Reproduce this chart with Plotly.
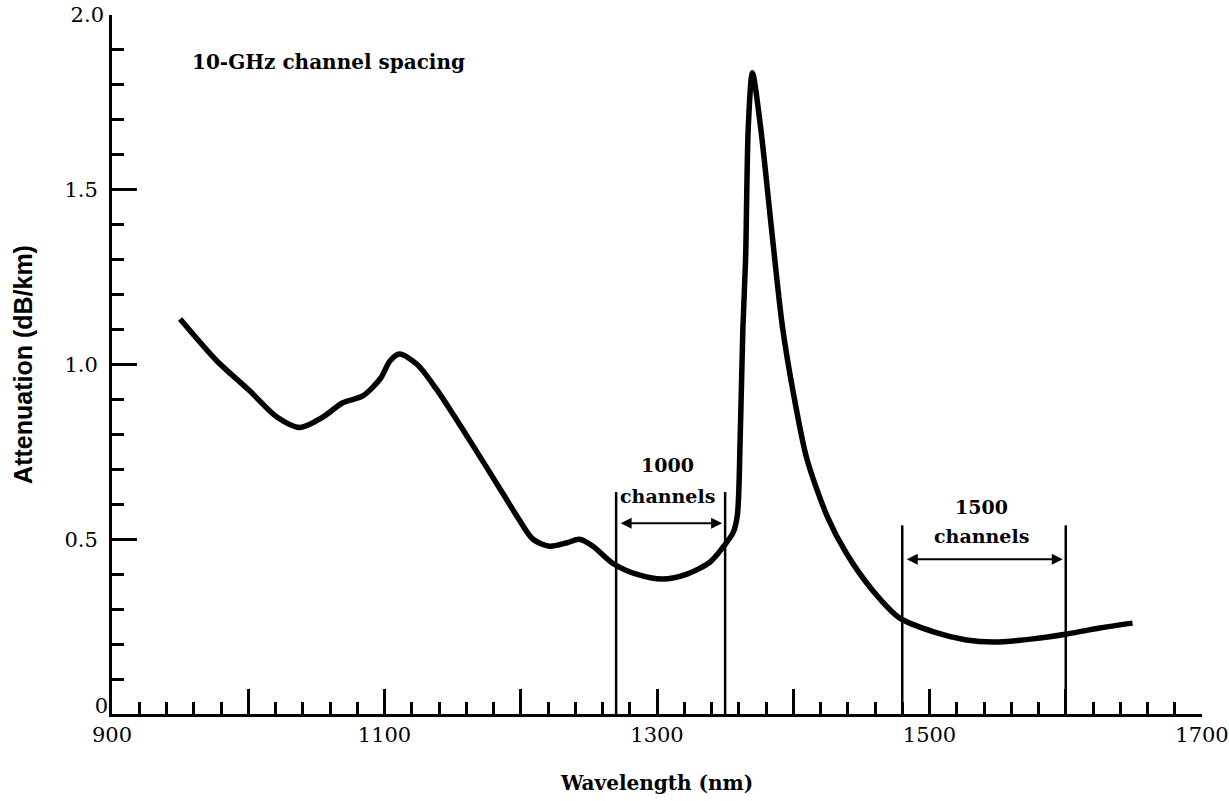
import plotly.graph_objects as go

# ---- data ----
wavelength_nm = [950, 977, 1001, 1021, 1038, 1055, 1069, 1084, 1097, 1104, 1111, 1124,
                 1138, 1163, 1187, 1199, 1209, 1221, 1234, 1243, 1253, 1268, 1285, 1304,
                 1322, 1339, 1348, 1356, 1359, 1361, 1363, 1365, 1367, 1370, 1376, 1384,
                 1392, 1400, 1410, 1425, 1439, 1458, 1478, 1503, 1527, 1547, 1576, 1601,
                 1625, 1649]
attenuation_db_km = [1.13, 1.01, 0.925, 0.85, 0.82, 0.85, 0.89, 0.91, 0.96, 1.01, 1.03, 1.00,
                     0.93, 0.78, 0.63, 0.555, 0.50, 0.48, 0.49, 0.50, 0.48, 0.43, 0.40, 0.386,
                     0.40, 0.435, 0.475, 0.52, 0.57, 0.78, 1.10, 1.30, 1.68, 1.835, 1.68, 1.39,
                     1.11, 0.92, 0.73, 0.565, 0.46, 0.355, 0.275, 0.235, 0.212, 0.206, 0.215,
                     0.229, 0.246, 0.26]

band_names = ["1000", "1500"]
band_low_nm = [1270, 1480]
band_high_nm = [1350, 1600]
band_line_top = [0.635, 0.54]
band_arrow_level = [0.546, 0.443]
band_label_x = [1308, 1538]
band_number_y = [0.712, 0.592]
band_word_y = [0.624, 0.508]

x_tick_values = [900, 1000, 1100, 1200, 1300, 1400, 1500, 1600, 1700]
x_tick_labels = ["900", "", "1100", "", "1300", "", "1500", "", "1700"]
y_tick_values = [0.5, 1.0, 1.5]
y_tick_labels = ["0.5", "1.0", "1.5"]
y_zero_value = [0]
y_zero_label = ["0"]
y_top_value = [2.0]
y_top_label = ["2.0"]

note_text = "10-GHz channel spacing"
note_x = 957
note_y = 1.866

SERIF = "DejaVu Serif"

fig = go.Figure()

# band boundary lines
vx, vy = [], []
for lo, hi, top in zip(band_low_nm, band_high_nm, band_line_top):
    vx += [lo, lo, None, hi, hi, None]
    vy += [0, top, None, 0, top, None]
fig.add_trace(go.Scatter(x=vx, y=vy, mode="lines",
                         line=dict(color="black", width=2.5),
                         hoverinfo="skip", showlegend=False))

# attenuation curve
fig.add_trace(go.Scatter(x=wavelength_nm, y=attenuation_db_km, mode="lines",
                         line=dict(color="black", width=5.5, shape="spline", smoothing=0.8),
                         showlegend=False))

# invisible traces for the label-only y axes
fig.add_trace(go.Scatter(x=[None], y=[None], yaxis="y2", showlegend=False, hoverinfo="skip"))
fig.add_trace(go.Scatter(x=[None], y=[None], yaxis="y3", showlegend=False, hoverinfo="skip"))

annotations = []
for name, lo, hi, lvl, lx, ny, wy in zip(band_names, band_low_nm, band_high_nm,
                                         band_arrow_level, band_label_x,
                                         band_number_y, band_word_y):
    annotations.append(dict(x=hi, y=lvl, ax=lo, ay=lvl, xref="x", yref="y",
                            axref="x", ayref="y", text="", showarrow=True,
                            arrowhead=2, arrowside="end+start", arrowsize=1.1,
                            arrowwidth=2, arrowcolor="black", standoff=3, startstandoff=3))
    annotations.append(dict(x=lx, y=ny, xref="x", yref="y", text=name, showarrow=False,
                            font=dict(family=SERIF, size=19, color="black", weight="bold")))
    annotations.append(dict(x=lx, y=wy, xref="x", yref="y", text="channels", showarrow=False,
                            font=dict(family=SERIF, size=19, color="black", weight="bold")))

annotations.append(dict(x=note_x, y=note_y, xref="x", yref="y", text=note_text,
                        showarrow=False, xanchor="left",
                        font=dict(family=SERIF, size=20, color="black", weight="bold")))

label_axis = dict(range=[0, 2.0], overlaying="y", side="left", showgrid=False,
                  zeroline=False, showline=False, automargin=False, tickmode="array",
                  ticks="", tickfont=dict(family=SERIF, size=21, color="black"))

fig.update_layout(
    width=1229, height=801,
    margin=dict(l=112, r=27, t=15, b=87),
    paper_bgcolor="white", plot_bgcolor="white",
    showlegend=False,
    annotations=annotations,
    xaxis=dict(
        range=[900, 1700], showgrid=False, zeroline=False, automargin=False,
        showline=True, linecolor="black", linewidth=3,
        tickmode="array", tickvals=x_tick_values, ticktext=x_tick_labels,
        ticks="inside", ticklen=25, tickwidth=2.5, tickcolor="black",
        minor=dict(dtick=20, tick0=900, ticks="inside", ticklen=12,
                   tickwidth=2.5, tickcolor="black", showgrid=False),
        tickfont=dict(family=SERIF, size=21, color="black"),
        ticklabelstandoff=0,
        title=dict(text="Wavelength (nm)", standoff=30,
                   font=dict(family=SERIF, size=20, color="black", weight="bold")),
    ),
    yaxis=dict(
        range=[0, 2.0], showgrid=False, zeroline=False, automargin=False,
        showline=True, linecolor="black", linewidth=3,
        tickmode="array", tickvals=y_tick_values, ticktext=y_tick_labels,
        ticks="inside", ticklen=25, tickwidth=2.5, tickcolor="black",
        minor=dict(dtick=0.1, tick0=0, ticks="inside", ticklen=12,
                   tickwidth=2.5, tickcolor="black", showgrid=False),
        tickfont=dict(family=SERIF, size=21, color="black"),
        ticklabelstandoff=7,
        title=dict(text="Attenuation (dB/km)", standoff=25,
                   font=dict(family="Liberation Sans", size=25, color="black", weight="bold")),
    ),
    yaxis2=dict(label_axis, tickvals=y_zero_value, ticktext=y_zero_label,
                ticklabelstandoff=3, ticklabelshift=-8),
    yaxis3=dict(label_axis, tickvals=y_top_value, ticktext=y_top_label,
                ticklabelstandoff=7),
)

fig.write_html("out.html")
